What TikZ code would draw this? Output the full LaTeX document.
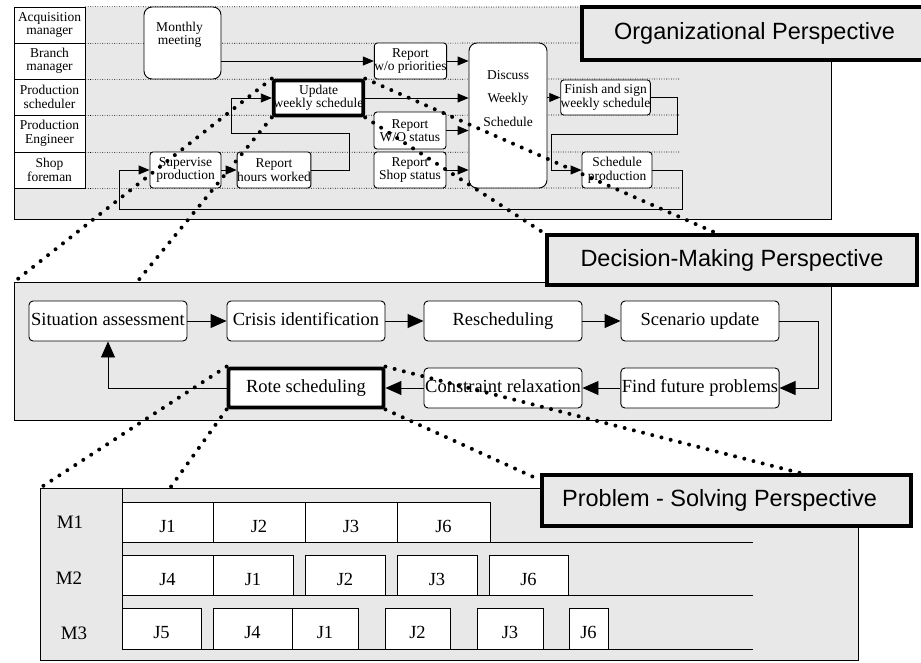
\documentclass[tikz,border=0pt]{standalone}
\usepackage{fontspec}
\setmainfont{Liberation Serif}
\newfontfamily\arialfam{Liberation Sans}
\usetikzlibrary{arrows.meta}
\newcommand\orgfont{\fontsize{13.5}{13.5}\selectfont}
\newcommand\dmfont{\fontsize{18.5}{20}\selectfont}
\newcommand\persfont{\arialfam\fontsize{23.5}{26}\selectfont}
\definecolor{panelgray}{HTML}{E8E8E8}
\begin{document}
\begin{tikzpicture}[x=1pt,y=-1pt,
  panel/.style={fill=panelgray, inner sep=0pt, outer sep=0pt},
  lanecell/.style={draw, fill=white, minimum width=71pt, minimum height=36pt, inner sep=0pt, align=center, font=\orgfont, line width=0.8pt},
  lanedots/.style={line width=0.7pt, dash pattern=on 0.8pt off 1.6pt},
  obox/.style={draw, fill=white, rounded corners=3pt, inner sep=0pt, align=center, font=\orgfont, line width=0.9pt},
  thickbox/.style={line width=3.8pt, rounded corners=2pt},
  dbox/.style={draw, fill=white, rounded corners=4pt, inner sep=1pt, minimum width=158pt, minimum height=40pt, text height=13pt, text depth=4pt, font=\dmfont, line width=0.9pt},
  jbox/.style={draw, fill=white, inner sep=0pt, text height=20pt, text depth=0pt, font=\dmfont, line width=0.9pt},
  mlabel/.style={font=\fontsize{19}{20}\selectfont, inner sep=0pt},
  persp/.style={draw, fill=panelgray, line width=4pt, inner sep=0pt, font=\persfont},
  arr/.style={-{Triangle[length=11pt,width=9pt]}, line width=0.9pt},
  bigarr/.style={-{Triangle[length=16pt,width=14pt]}, line width=0.9pt},
  zoomdots/.style={line width=4pt, dash pattern=on 0pt off 9.5pt, line cap=round},
  rule/.style={line width=0.9pt}
]
\useasboundingbox (0,0) rectangle (921,662);

% ---------------- panels ----------------
\node[panel, minimum width=817pt, minimum height=212pt] (opanel) at (422.5,113) {};
\draw[rule] (opanel.north west) -- (opanel.south west) -- (opanel.south east) -- (opanel.north east);
\node[panel, draw, line width=0.9pt, minimum width=817pt, minimum height=138pt] (dpanel) at (422.5,351) {};
\node[panel, draw, line width=0.9pt, minimum width=818pt, minimum height=172pt] (ppanel) at (449,574) {};

% ---------------- organizational lanes ----------------
\node[lanecell] (l1) at (49.5,25) {Acquisition\\manager};
\node[lanecell] (l2) at (49.5,61) {Branch\\manager};
\node[lanecell] (l3) at (49.5,97) {Production\\scheduler};
\node[lanecell, minimum height=37pt] (l4) at (49.5,133.5) {Production\\Engineer};
\node[lanecell] (l5) at (49.5,170) {Shop\\foreman};
\draw[lanedots] (l1.north east) -- (580,7);
\draw[lanedots] (l1.south east) -- (580,43);
\draw[lanedots] (l2.south east) -- (680,79);
\draw[lanedots] (l3.south east) -- (680,115);
\draw[lanedots] (l4.south east) -- (680,152);
\draw[lanedots] (l5.south east) -- (680,188);

% ---------------- organizational boxes ----------------
\node[obox, rounded corners=8pt, minimum width=77pt, minimum height=72pt,
  label={[anchor=north, align=center, font=\orgfont, inner sep=0pt, yshift=-15pt, xshift=-3pt]north:Monthly\\meeting}] (mm) at (182.5,43) {};
\node[obox, minimum width=71pt, minimum height=36pt] (rwp) at (410.5,61) {Report\\w/o priorities};
\node[obox, thickbox, minimum width=84pt, minimum height=35pt] (uws) at (318.5,98) {Update\\weekly schedule};
\node[obox, minimum width=72pt, minimum height=37pt] (rwo) at (410,130.5) {Report\\W/O status};
\node[obox, minimum width=72pt, minimum height=36pt] (rss) at (410,170) {Report\\Shop status};
\node[obox, minimum width=71pt, minimum height=36pt] (sup) at (185.5,170) {Supervise\\production};
\node[obox, minimum width=72pt, minimum height=36pt] (rhw) at (274,170) {Report\\hours worked};
\node[obox, rounded corners=8pt, minimum width=78pt, minimum height=145pt,
  label={[anchor=center, align=center, font=\fontsize{13.5}{23.5}\selectfont, inner sep=0pt, yshift=17pt]center:Discuss\\Weekly\\Schedule}] (dws) at (508,115.5) {};
\node[obox, minimum width=83pt, minimum height=35pt] (fsw) at (605.5,97.5) {Finish and sign\\weekly schedule};
\node[obox, minimum width=70pt, minimum height=36pt] (spr) at (617,170) {Schedule\\production};

% ---------------- organizational connectors ----------------
\draw[arr] (mm.east |- rwp.west) -- (rwp.west);
\draw[arr] (rwp.east) -- (dws.west |- rwp.east);
\draw[arr] (uws.east) -- (dws.west |- uws.east);
\draw[arr] (rwo.east) -- (dws.west |- rwo.east);
\draw[arr] (rss.east) -- (dws.west |- rss.east);
\draw[arr] (dws.east |- fsw.west) -- (fsw.west);
\draw[arr] (fsw.east) -| (677,134) -| ([xshift=-30pt]spr.west) -- (spr.west);
\draw[arr] (spr.east) -| (682,209) -| ([xshift=-30pt]sup.west) -- (sup.west);
\draw[arr] (sup.east) -- (rhw.west);
\draw[arr] (rhw.east) -| (349,133) -| ([xshift=-40pt]uws.west) -- (uws.west);

% ---------------- decision-making boxes ----------------
\node[dbox] (sa) at (108,321) {Situation assessment};
\node[dbox] (ci) at (306,321) {Crisis identification};
\node[dbox] (rs) at (503,321) {Rescheduling};
\node[dbox] (su) at (700,321) {Scenario update};
\node[dbox] (ffp) at (700,388) {Find future problems};
\node[dbox] (cr) at (503,388) {Constraint relaxation};
\node[dbox, thickbox, minimum width=155pt, minimum height=39pt] (rote) at (306,388) {Rote scheduling};

\draw[bigarr] (sa.east) -- (ci.west);
\draw[bigarr] (ci.east) -- (rs.west);
\draw[bigarr] (rs.east) -- (su.west);
\draw[bigarr] (su.east) -| ([xshift=39pt]ffp.east) -- (ffp.east);
\draw[bigarr] (ffp.west) -- (cr.east);
\draw[bigarr] (cr.west) -- (rote.east);
\draw[bigarr] (rote.west) -| (sa.south);

% ---------------- problem-solving (Gantt) ----------------
\draw[rule] (122,488) -- (122,649);
\draw[rule] (122,542) -- (753,542);
\draw[rule] (122,595) -- (753,595);
\draw[rule] (122,649) -- (753,649);
\node[mlabel] (m1) at (70,522) {M1};
\node[mlabel] (m2) at (69,578) {M2};
\node[mlabel] (m3) at (74,633) {M3};

\node[jbox, minimum width=91pt, minimum height=40pt] (a1) at (167.5,522) {J1};
\node[jbox, minimum width=92pt, minimum height=40pt] (a2) at (259,522) {J2};
\node[jbox, minimum width=92pt, minimum height=40pt] (a3) at (351,522) {J3};
\node[jbox, minimum width=93pt, minimum height=40pt] (a6) at (443.5,522) {J6};

\node[jbox, minimum width=91pt, minimum height=40pt] (b4) at (167.5,575) {J4};
\node[jbox, minimum width=80pt, minimum height=40pt] (b1) at (253,575) {J1};
\node[jbox, minimum width=80pt, minimum height=40pt] (b2) at (345,575) {J2};
\node[jbox, minimum width=80pt, minimum height=40pt] (b3) at (437,575) {J3};
\node[jbox, minimum width=79pt, minimum height=40pt] (b6) at (528.5,575) {J6};

\node[jbox, minimum width=79pt, minimum height=41pt] (c5) at (161.5,628.5) {J5};
\node[jbox, minimum width=79pt, minimum height=41pt] (c4) at (252.5,628.5) {J4};
\node[jbox, minimum width=66pt, minimum height=41pt] (c1) at (325,628.5) {J1};
\node[jbox, minimum width=65pt, minimum height=41pt] (c2) at (417.5,628.5) {J2};
\node[jbox, minimum width=66pt, minimum height=41pt] (c3) at (510,628.5) {J3};
\node[jbox, minimum width=39pt, minimum height=41pt] (c6) at (588.5,628.5) {J6};

% ---------------- zoom (dotted) lines ----------------
\draw[zoomdots] (uws.north west) -- (dpanel.north west);
\draw[zoomdots] (uws.south west) -- (137,282);
\draw[zoomdots] (uws.north east) -- (716,233);
\draw[zoomdots] (uws.south east) -- (547,235);
\draw[zoomdots] (rote.north west) -- (ppanel.north west);
\draw[zoomdots] (rote.south west) -- (170,488);
\draw[zoomdots] (rote.north east) -- (800,473);
\draw[zoomdots] (rote.south east) -- (540,480);

% ---------------- perspective labels ----------------
\node[persp, minimum width=345pt, minimum height=53pt] (orgp) at (754.5,33.5) {Organizational Perspective};
\node[persp, minimum width=370pt, minimum height=50pt] (dmp) at (732,260) {Decision-Making Perspective};
\node[persp, minimum width=369pt, minimum height=51pt,
  label={[anchor=center, font=\persfont, inner sep=0pt, xshift=-7pt]center:Problem - Solving Perspective}] (psp) at (726.5,500.5) {};
\end{tikzpicture}
\end{document}
